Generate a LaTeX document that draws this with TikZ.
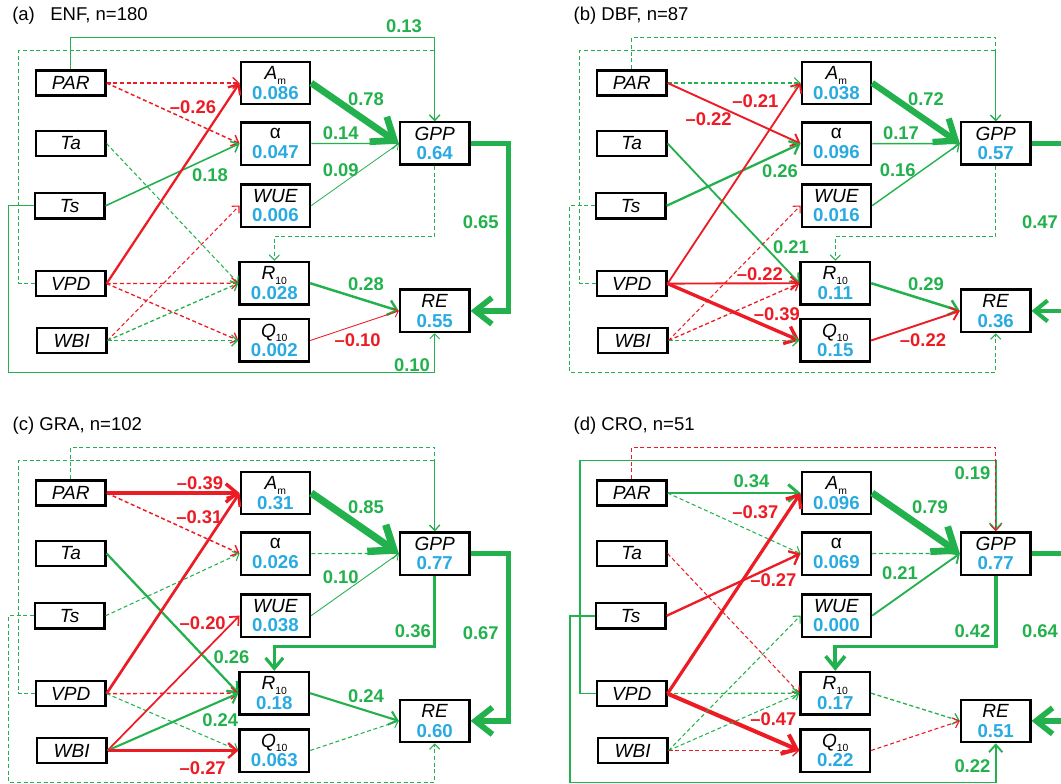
\documentclass[tikz,border=0pt]{standalone}
\usepackage{fontspec}
\setmainfont{Liberation Sans}
\usetikzlibrary{arrows.meta}

\definecolor{cgreen}{RGB}{34,177,76}
\definecolor{cred}{RGB}{237,28,36}
\definecolor{cblue}{RGB}{41,171,226}

\newcommand{\lowsub}[1]{\raisebox{-3.5pt}[0pt][0pt]{\fontsize{7.8}{8}\selectfont\upshape #1}}
\newcommand{\rsq}[1]{{\upshape\bfseries\fontsize{14}{14.8}\selectfont\color{cblue}#1}}

% boxes of one panel; args are the R2 of Am, alpha, WUE, R10, Q10, GPP, RE
\newcommand{\panelboxes}[7]{%
  \node[inbox] (PAR) at (70.7,83) {PAR};
  \node[inbox] (Ta) at (70.7,143.5) {Ta};
  \node[inbox] (Ts) at (69.7,205.8) {Ts};
  \node[inbox] (VPD) at (70.7,283.6) {VPD};
  \node[inbox] (WBI) at (71.7,340.5) {WBI};
  \node[midbox] (Am) at (275.4,83) {A\lowsub{m}\\\rsq{#1}};
  \node[midbox] (alpha) at (275.4,143.6) {\upshape α\\\rsq{#2}};
  \node[midbox] (WUE) at (275.4,205.6) {WUE\\\rsq{#3}};
  \node[midbox] (R10) at (274.3,283.2) {R\lowsub{10}\\\rsq{#4}};
  \node[midbox] (Q10) at (274.3,340.5) {Q\lowsub{10}\\\rsq{#5}};
  \node[midbox] (GPP) at (434.7,143.5) {GPP\\\rsq{#6}};
  \node[midbox] (RE) at (434.7,310.9) {RE\\\rsq{#7}};
  % levels used by the loops round the boxes
  \coordinate (lvltop) at (0,37.6);
  \coordinate (lvlloop) at (0,50.6);
  \coordinate (lvlmid) at (0,236.4);
  \coordinate (lvlbot) at (0,372.5);
  \coordinate (xinner) at (18.7,0);
  \coordinate (xouter) at (8.8,0);
  \coordinate (xright) at (508.5,0);
}

\begin{document}
\begin{tikzpicture}[x=0.75pt, y=-0.75pt]
    \tikzset{
        inbox/.style={draw, line width=1.8pt, minimum width=52pt, minimum height=19pt,
            inner sep=0pt, font=\fontsize{14.3}{14.8}\selectfont\itshape},
        midbox/.style={inbox, minimum height=31.8pt, align=center},
        link/.style={line width={#1*6.5pt}, -{Straight Barb[length=2pt 2.5, width=5pt 3.5]}},
        poseff/.style={draw=cgreen},
        negeff/.style={draw=cred},
        nonsig/.style={dash pattern=on 3pt off 2pt},
        coef/.style={font=\bfseries\fontsize{13.8}{14}\selectfont, text=cgreen, inner sep=0pt},
        ncoef/.style={coef, text=cred},
        paneltitle/.style={font=\fontsize{13.9}{14}\selectfont, anchor=base west, inner sep=0pt},
    }
    \fill[white] (0,0) rectangle (1061,784);
    \useasboundingbox (0,0) rectangle (1061,784);
    \clip (0,0) rectangle (1061,784);

    % (a) ENF
    \begin{scope}[name prefix=a-]
        \panelboxes{0.086}{0.047}{0.006}{0.028}{0.002}{0.64}{0.55}
        \node[paneltitle] (title) at (12,20.2) {(a)\ \ \ ENF, n=180};
        \draw[poseff, link=0.13] (PAR.north) -- (PAR.north |- lvltop) -| (GPP.north);
        \draw[poseff, nonsig, link=0.12] (VPD.west) -| (xinner |- lvlloop) -| (GPP.north);
        \draw[poseff, link=0.10] (Ts.west) -| (xouter |- lvlbot) -| (RE.south);
        \draw[poseff, nonsig, link=0.12] (GPP.south) -- (GPP.south |- lvlmid) -| (R10.north);
        \draw[poseff, link=0.65] (GPP.east) -| (xright |- RE.east) -- (RE.east);
        \draw[negeff, nonsig, link=0.15] (PAR.east) -- (Am.west);
        \draw[negeff, nonsig, link=0.17] (PAR.east) -- (alpha.west);
        \draw[poseff, nonsig, link=0.12] (Ta.east) -- (R10.west);
        \draw[poseff, link=0.18] (Ts.east) -- (alpha.west);
        \draw[negeff, link=0.26] (VPD.east) -- (Am.west);
        \draw[negeff, nonsig, link=0.15] (VPD.east) -- (R10.west);
        \draw[negeff, nonsig, link=0.15] (VPD.east) -- (Q10.west);
        \draw[negeff, nonsig, link=0.12] (WBI.east) -- (WUE.west);
        \draw[poseff, nonsig, link=0.15] (WBI.east) -- (R10.west);
        \draw[poseff, nonsig, link=0.15] (WBI.east) -- (Q10.west);
        \draw[poseff, link=0.78] (Am.east) -- (GPP.west);
        \draw[poseff, link=0.14] (alpha.east) -- (GPP.west);
        \draw[poseff, link=0.09] (WUE.east) -- (GPP.west);
        \draw[poseff, link=0.28] (R10.east) -- (RE.west);
        \draw[negeff, link=0.10] (Q10.east) -- (RE.west);
        \node[coef] (k1) at (404,26.5) {0.13};
        \node[ncoef] (k2) at (193,106.7) {–0.26};
        \node[coef] (k3) at (210,175) {0.18};
        \node[coef] (k4) at (366,99) {0.78};
        \node[coef] (k5) at (340.7,132.7) {0.14};
        \node[coef] (k6) at (340.7,170) {0.09};
        \node[coef] (k7) at (480.7,222.5) {0.65};
        \node[coef] (k8) at (366,283.9) {0.28};
        \node[ncoef] (k9) at (357.6,340.5) {–0.10};
        \node[coef] (k10) at (412,364.7) {0.10};
    \end{scope}

    % (b) DBF
    \begin{scope}[shift={(561,0)}, name prefix=b-]
        \panelboxes{0.038}{0.096}{0.016}{0.11}{0.15}{0.57}{0.36}
        \node[paneltitle] (title) at (12.4,20.2) {(b) DBF, n=87};
        \draw[poseff, nonsig, link=0.12] (PAR.north) -- (PAR.north |- lvltop) -| (GPP.north);
        \draw[poseff, nonsig, link=0.12] (VPD.west) -| (xinner |- lvlloop) -| (GPP.north);
        \draw[poseff, nonsig, link=0.12] (Ts.west) -| (xouter |- lvlbot) -| (RE.south);
        \draw[poseff, nonsig, link=0.12] (GPP.south) -- (GPP.south |- lvlmid) -| (R10.north);
        \draw[poseff, link=0.47] (GPP.east) -| (xright |- RE.east) -- (RE.east);
        \draw[poseff, nonsig, link=0.13] (PAR.east) -- (Am.west);
        \draw[negeff, link=0.22] (PAR.east) -- (alpha.west);
        \draw[poseff, link=0.21] (Ta.east) -- (R10.west);
        \draw[poseff, link=0.26] (Ts.east) -- (alpha.west);
        \draw[negeff, link=0.21] (VPD.east) -- (Am.west);
        \draw[negeff, link=0.22] (VPD.east) -- (R10.west);
        \draw[negeff, link=0.39] (VPD.east) -- (Q10.west);
        \draw[negeff, nonsig, link=0.12] (WBI.east) -- (WUE.west);
        \draw[negeff, nonsig, link=0.15] (WBI.east) -- (R10.west);
        \draw[poseff, nonsig, link=0.15] (WBI.east) -- (Q10.west);
        \draw[poseff, link=0.72] (Am.east) -- (GPP.west);
        \draw[poseff, link=0.17] (alpha.east) -- (GPP.west);
        \draw[poseff, link=0.16] (WUE.east) -- (GPP.west);
        \draw[poseff, link=0.29] (R10.east) -- (RE.west);
        \draw[negeff, link=0.22] (Q10.east) -- (RE.west);
        \node[ncoef] (k1) at (194.4,101.6) {–0.21};
        \node[ncoef] (k2) at (147.6,118.9) {–0.22};
        \node[coef] (k3) at (219,171.6) {0.26};
        \node[coef] (k4) at (230,247.2) {0.21};
        \node[ncoef] (k5) at (198.8,273.9) {–0.22};
        \node[ncoef] (k6) at (215.8,313.9) {–0.39};
        \node[coef] (k7) at (365,99) {0.72};
        \node[coef] (k8) at (340,132.7) {0.17};
        \node[coef] (k9) at (336.8,170) {0.16};
        \node[coef] (k10) at (365,283.9) {0.29};
        \node[ncoef] (k11) at (362,340.5) {–0.22};
        \node[coef] (k12) at (479,222.5) {0.47};
    \end{scope}

    % (c) GRA
    \begin{scope}[shift={(0,410)}, name prefix=c-]
        \panelboxes{0.31}{0.026}{0.038}{0.18}{0.063}{0.77}{0.60}
        \node[paneltitle] (title) at (12.4,20.2) {(c) GRA, n=102};
        \draw[poseff, nonsig, link=0.12] (PAR.north) -- (PAR.north |- lvltop) -| (GPP.north);
        \draw[poseff, nonsig, link=0.12] (VPD.west) -| (xinner |- lvlloop) -| (GPP.north);
        \draw[poseff, nonsig, link=0.12] (Ts.west) -| (xouter |- lvlbot) -| (RE.south);
        \draw[poseff, link=0.36] (GPP.south) -- (GPP.south |- lvlmid) -| (R10.north);
        \draw[poseff, link=0.67] (GPP.east) -| (xright |- RE.east) -- (RE.east);
        \draw[negeff, link=0.39] (PAR.east) -- (Am.west);
        \draw[negeff, nonsig, link=0.17] (PAR.east) -- (alpha.west);
        \draw[poseff, link=0.26] (Ta.east) -- (R10.west);
        \draw[poseff, nonsig, link=0.12] (Ts.east) -- (alpha.west);
        \draw[negeff, link=0.31] (VPD.east) -- (Am.west);
        \draw[negeff, nonsig, link=0.17] (VPD.east) -- (R10.west);
        \draw[poseff, nonsig, link=0.12] (VPD.east) -- (Q10.west);
        \draw[negeff, link=0.20] (WBI.east) -- (WUE.west);
        \draw[poseff, link=0.24] (WBI.east) -- (R10.west);
        \draw[negeff, link=0.27] (WBI.east) -- (Q10.west);
        \draw[poseff, link=0.85] (Am.east) -- (GPP.west);
        \draw[poseff, nonsig, link=0.13] (alpha.east) -- (GPP.west);
        \draw[poseff, link=0.10] (WUE.east) -- (GPP.west);
        \draw[poseff, link=0.24] (R10.east) -- (RE.west);
        \draw[poseff, nonsig, link=0.12] (Q10.east) -- (RE.west);
        \node[ncoef] (k1) at (200,73.4) {–0.39};
        \node[ncoef] (k2) at (199.3,106.8) {–0.31};
        \node[ncoef] (k3) at (202.7,212.7) {–0.20};
        \node[coef] (k4) at (231.5,246.7) {0.26};
        \node[coef] (k5) at (220.3,310) {0.24};
        \node[ncoef] (k6) at (202.7,358.4) {–0.27};
        \node[coef] (k7) at (366,97.3) {0.85};
        \node[coef] (k8) at (340.7,166.8) {0.10};
        \node[coef] (k9) at (366,286) {0.24};
        \node[coef] (k10) at (412.9,221) {0.36};
        \node[coef] (k11) at (480.7,222.8) {0.67};
    \end{scope}

    % (d) CRO
    \begin{scope}[shift={(561,410)}, name prefix=d-]
        \panelboxes{0.096}{0.069}{0.000}{0.17}{0.22}{0.77}{0.51}
        \node[paneltitle] (title) at (12.4,20.2) {(d) CRO, n=51};
        \draw[poseff, link=0.19] (VPD.west) -| (xinner |- lvlloop) -| (GPP.north);
        \draw[negeff, nonsig, link=0.12] (PAR.north) -- (PAR.north |- lvltop) -| (GPP.north);
        \draw[poseff, link=0.22] (Ts.west) -| (xouter |- lvlbot) -| (RE.south);
        \draw[poseff, link=0.42] (GPP.south) -- (GPP.south |- lvlmid) -| (R10.north);
        \draw[poseff, link=0.64] (GPP.east) -| (xright |- RE.east) -- (RE.east);
        \draw[poseff, link=0.34] (PAR.east) -- (Am.west);
        \draw[poseff, nonsig, link=0.12] (PAR.east) -- (alpha.west);
        \draw[negeff, nonsig, link=0.12] (Ta.east) -- (R10.west);
        \draw[negeff, link=0.27] (Ts.east) -- (alpha.west);
        \draw[negeff, link=0.37] (VPD.east) -- (Am.west);
        \draw[poseff, nonsig, link=0.15] (VPD.east) -- (R10.west);
        \draw[negeff, link=0.47] (VPD.east) -- (Q10.west);
        \draw[poseff, nonsig, link=0.12] (WBI.east) -- (WUE.west);
        \draw[poseff, nonsig, link=0.12] (WBI.east) -- (R10.west);
        \draw[negeff, nonsig, link=0.15] (WBI.east) -- (Q10.west);
        \draw[poseff, link=0.79] (Am.east) -- (GPP.west);
        \draw[poseff, nonsig, link=0.15] (alpha.east) -- (GPP.west);
        \draw[poseff, link=0.21] (WUE.east) -- (GPP.west);
        \draw[poseff, nonsig, link=0.15] (R10.east) -- (RE.west);
        \draw[negeff, nonsig, link=0.13] (Q10.east) -- (RE.west);
        \node[coef] (k1) at (190.4,70.8) {0.34};
        \node[ncoef] (k2) at (194.4,101.8) {–0.37};
        \node[ncoef] (k3) at (212.4,170) {–0.27};
        \node[ncoef] (k4) at (212.4,309.4) {–0.47};
        \node[coef] (k5) at (369,96.8) {0.79};
        \node[coef] (k6) at (339,163.2) {0.21};
        \node[coef] (k7) at (411.4,62.9) {0.19};
        \node[coef] (k8) at (411.4,220.8) {0.42};
        \node[coef] (k9) at (479,220.8) {0.64};
        \node[coef] (k10) at (411.4,355.9) {0.22};
    \end{scope}
\end{tikzpicture}
\end{document}
